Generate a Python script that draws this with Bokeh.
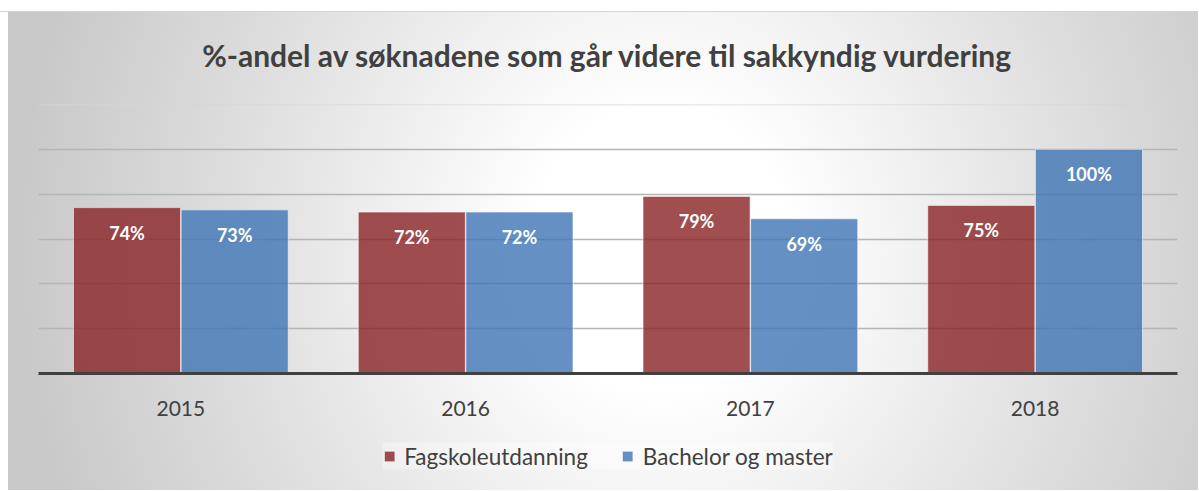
from bokeh.plotting import figure
from bokeh.layouts import column
from bokeh.models import (ColumnDataSource, FactorRange, Range1d, FixedTicker, Legend,
                          LegendItem, Span)
from bokeh.transform import dodge
from bokeh.core.properties import value
from bokeh.embed import file_html
from bokeh.resources import INLINE

# ---- data ----
years = ["2015", "2016", "2017", "2018"]
fagskole = [74, 72, 79, 75]
bachelor = [73, 72, 69, 100]
series_names = ["Fagskoleutdanning", "Bachelor og master"]
title_text = "%-andel av søknadene som går videre til sakkyndig vurdering"

src = ColumnDataSource(dict(
    year=years,
    fag=fagskole,
    bach=bachelor,
    fag_lbl=[f"{v}%" for v in fagskole],
    bach_lbl=[f"{v}%" for v in bachelor],
))

FONT = "Lato"
TXT = "#404040"
RED = "#882224"
BLUE = "#3E74B5"
W = 0.376
OFF = 0.189

p = figure(width=1198, height=436, x_range=FactorRange(*years), y_range=Range1d(0, 120),
           output_backend="svg", toolbar_location=None,
           min_border_left=38, min_border_right=21, min_border_top=104, min_border_bottom=63)
p.border_fill_color = None
p.background_fill_color = None
p.outline_line_color = None

# title
p.title.text = title_text
p.title.align = "center"
p.title.text_font = FONT
p.title.text_font_style = "bold"
p.title.text_font_size = "30px"
p.title.text_color = TXT
p.title.standoff = 64

# axes
p.yaxis.visible = False
p.xaxis.axis_line_width = 3
p.xaxis.axis_line_color = "#404040"
p.xaxis.major_tick_line_color = None
p.xaxis.minor_tick_line_color = None
p.xaxis.major_label_text_font = FONT
p.xaxis.major_label_text_font_size = "21px"
p.xaxis.major_label_text_color = TXT
p.xaxis.major_label_standoff = 21

# grid
p.xgrid.visible = False
p.ygrid.ticker = FixedTicker(ticks=[20, 40, 60, 80, 100])
p.ygrid.grid_line_color = "#b5b5b5"
p.ygrid.grid_line_width = 1.4
p.add_layout(Span(location=120, dimension="width", line_color="#d6d6d6", line_width=1.3))

bar_style = dict(fill_alpha=0.8, line_color="white", line_alpha=0.55, line_width=1)
p.vbar(x=dodge("year", -OFF, range=p.x_range), top="fag", width=W, source=src,
       fill_color=RED, **bar_style)
p.vbar(x=dodge("year", OFF, range=p.x_range), top="bach", width=W, source=src,
       fill_color=BLUE, **bar_style)

for col, lbl, off in (("fag", "fag_lbl", -OFF), ("bach", "bach_lbl", OFF)):
    p.text(x=dodge("year", off, range=p.x_range), y=col, text=lbl, source=src,
           y_offset=25, text_align="center", text_baseline="middle",
           text_color="white", text_font=value(FONT), text_font_style="bold",
           text_font_size="18px")

# ---- legend strip: separate figure with hidden copies of the series ----
lf = figure(width=1198, height=54, output_backend="svg", toolbar_location=None,
            x_axis_type=None, y_axis_type=None,
            x_range=FactorRange(*years), y_range=Range1d(0, 120),
            min_border_left=24, min_border_right=0, min_border_top=0, min_border_bottom=14)
lf.border_fill_color = None
lf.background_fill_color = None
lf.outline_line_color = None
lf.grid.visible = False
lr1 = lf.vbar(x=dodge("year", -OFF, range=lf.x_range), top="fag", width=W, source=src,
              fill_color=RED, visible=False, **bar_style)
lr2 = lf.vbar(x=dodge("year", OFF, range=lf.x_range), top="bach", width=W, source=src,
              fill_color=BLUE, visible=False, **bar_style)

legend = Legend(items=[LegendItem(label=series_names[0], renderers=[lr1]),
                       LegendItem(label=series_names[1], renderers=[lr2])],
                orientation="horizontal", location="center")
legend.margin = 0
legend.padding = 10
legend.spacing = 33
legend.glyph_width = 13
legend.glyph_height = 13
legend.label_standoff = 9
legend.label_text_font = FONT
legend.label_text_font_size = "22.5px"
legend.label_text_color = TXT
legend.border_line_color = None
legend.background_fill_color = "white"
legend.background_fill_alpha = 0.35
legend.inactive_fill_alpha = 0
lf.add_layout(legend, "center")

layout = column(p, lf, spacing=0)
layout.styles = {
    "background": (
        "linear-gradient(#ffffff,#ffffff) 0 0 / 100% 11px no-repeat,"
        "linear-gradient(#d4d4d4,#d4d4d4) 0 11px / 100% 1px no-repeat,"
        "linear-gradient(#ffffff,#ffffff) 0 0 / 8px 100% no-repeat,"
        "radial-gradient(ellipse 640px 700px at 660px 250px, #ffffff 0%, #ffffff 20%, #dcdcdc 70%, #c9c9c9 100%)"
    )
}

open("out.html", "w").write(file_html(layout, INLINE))
